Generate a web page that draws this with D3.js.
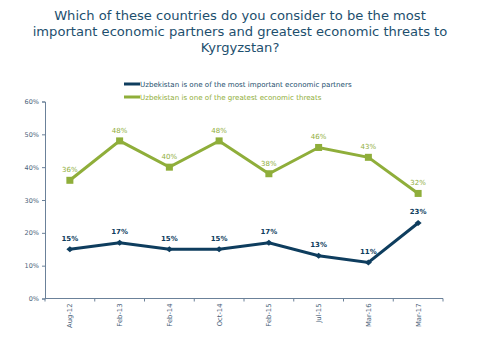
<!DOCTYPE html>
<html><head><meta charset="utf-8">
<script src="https://cdn.jsdelivr.net/npm/d3@7"></script>
<style>body{margin:0;background:#fff}svg{display:block}</style>
</head><body>
<script>
const categories = ["Aug-12","Feb-13","Feb-14","Oct-14","Feb-15","Jul-15","Mar-16","Mar-17"];
const partners = [15,17,15,15,17,13,11,23];
const threats = [36,48,40,48,38,46,43,32];
const yTicks = [0,10,20,30,40,50,60];
const seriesNames = ["Uzbekistan is one of the most important economic partners","Uzbekistan is one of the greatest economic threats"];
const titleLines = ["Which of these countries do you consider to be the most","important economic partners and greatest economic threats to","Kyrgyzstan?"];

const W=480,H=360;
const dark="#0e3d5e", green="#8fae3a", axisCol="#6b8199", tickText="#4b627a";
const svg=d3.select("body").append("svg").attr("width",W).attr("height",H);

const font="DejaVu Sans, Verdana, sans-serif";
const tg=svg.append("g");
titleLines.forEach((t,i)=>{
  tg.append("text").attr("x",240).attr("y",19.5+i*16).attr("text-anchor","middle")
    .attr("font-family",font).attr("font-size",13.1).attr("fill","#1d4f6e").text(t);
});

const x=d3.scaleBand().domain(categories).range([45,443]);
const y=d3.scaleLinear().domain([0,60]).range([298.5,101.5]);

// axes
const yAxis=svg.append("g").attr("transform","translate(45,0)")
  .call(d3.axisLeft(y).tickValues(yTicks).tickFormat(d=>d+"%").tickSize(3).tickPadding(3));
yAxis.selectAll("path,line").attr("stroke",axisCol);
yAxis.selectAll("text").attr("font-family",font).attr("font-size",6.5).attr("fill",tickText);

const xAxisG=svg.append("g").attr("transform","translate(0,298.5)");
xAxisG.append("line").attr("x1",45).attr("x2",443).attr("stroke",axisCol);
const edges=categories.map(c=>x(c)).concat([x.range()[1]]);
xAxisG.selectAll("line.tk").data(edges).enter().append("line").attr("class","tk")
  .attr("x1",d=>d).attr("x2",d=>d).attr("y1",0).attr("y2",3).attr("stroke",axisCol);
xAxisG.selectAll("text").data(categories).enter().append("text")
  .attr("transform",d=>`translate(${x(d)+x.bandwidth()/2+2.5},5) rotate(-90)`)
  .attr("text-anchor","end").attr("font-family",font).attr("font-size",6.8).attr("fill",tickText).text(d=>d);

const cx=(d,i)=>x(categories[i])+x.bandwidth()/2;
const line=d3.line().x(cx).y(d=>y(d));

// threats
svg.append("path").datum(threats).attr("d",line).attr("fill","none").attr("stroke",green).attr("stroke-width",3);
svg.selectAll("rect.m").data(threats).enter().append("rect").attr("class","m")
  .attr("x",(d,i)=>cx(d,i)-3.5).attr("y",d=>y(d)-3.5).attr("width",7).attr("height",7).attr("fill",green);
svg.selectAll("text.lt").data(threats).enter().append("text").attr("class","lt")
  .attr("x",cx).attr("y",d=>y(d)-8).attr("text-anchor","middle").attr("font-family",font)
  .attr("font-size",7).attr("fill",green).text(d=>d+"%");

// partners
svg.append("path").datum(partners).attr("d",line).attr("fill","none").attr("stroke",dark).attr("stroke-width",3);
svg.selectAll("path.dm").data(partners).enter().append("path").attr("class","dm")
  .attr("d",(d,i)=>{const a=cx(d,i),b=y(d);return `M${a-3.5},${b}L${a},${b-3}L${a+3.5},${b}L${a},${b+3}Z`;})
  .attr("fill",dark);
svg.selectAll("text.lp").data(partners).enter().append("text").attr("class","lp")
  .attr("x",cx).attr("y",d=>y(d)-8.5).attr("text-anchor","middle").attr("font-family",font)
  .attr("font-size",7).attr("font-weight","bold").attr("fill",dark).text(d=>d+"%");

// legend
const lg=svg.append("g");
[[dark,84],[green,97]].forEach(([c,yy],i)=>{
  lg.append("line").attr("x1",124).attr("x2",140).attr("y1",yy).attr("y2",yy).attr("stroke",c).attr("stroke-width",3);
  lg.append("text").attr("x",140).attr("y",yy+2.5).attr("font-family",font).attr("font-size",7.1)
    .attr("fill",i==0?"#1d4f6e":green).text(seriesNames[i]);
});
</script>
</body></html>
